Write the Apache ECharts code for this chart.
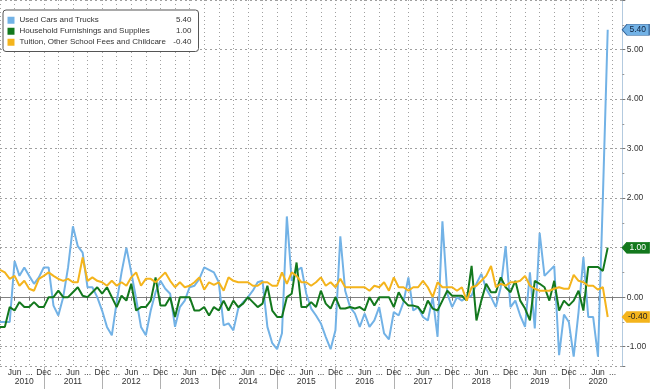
<!DOCTYPE html>
<html><head><meta charset="utf-8">
<script src="https://cdn.jsdelivr.net/npm/echarts@6/dist/echarts.min.js"></script>
<style>html,body{margin:0;padding:0;background:#fff}#c{width:650px;height:389px}</style>
</head><body><div id="c"></div>
<script>
// ---- data ----
const years = [2010,2011,2012,2013,2014,2015,2016,2017,2018,2019,2020];
const firstMonthOf2010 = 3;   // March 2010 is the first category
const lastMonthOf2020 = 11;   // axis runs to November 2020
const seriesNames = ['Used Cars and Trucks','Household Furnishings and Supplies','Tuition, Other School Fees and Childcare'];

// monthly % change, Mar 2010 .. Aug 2020
const usedCars = [
 -0.5,-0.5,-0.5,0.73,0.43,0.6,0.43,0.27,0.4,0.6,
 0.6,-0.17,-0.37,0.0,0.6,1.43,1.03,0.9,0.2,0.2,0.0,-0.27,
 -0.6,-0.77,-0.1,0.5,1.0,0.5,-0.03,-0.6,-0.77,-0.27,0.1,0.33,
 0.17,0.07,-0.6,-0.2,-0.07,0.2,0.23,0.37,0.6,0.55,0.5,0.3,
 -0.57,-0.53,-0.67,-0.23,-0.1,0.0,0.13,0.3,0.33,-0.6,-0.93,-1.05,
 -0.73,1.63,0.33,0.53,0.6,0.07,-0.23,-0.37,-0.53,-0.8,-1.05,-0.67,
 1.23,0.13,-0.2,-0.33,-0.6,-0.33,-0.6,-0.47,-0.2,-0.73,-0.85,-0.3,
 -0.37,-0.1,0.4,-0.27,-0.2,-0.4,-0.47,0.0,-0.8,1.53,0.07,-0.2,
 0.0,-0.07,0.0,0.03,0.27,0.47,0.17,0.0,-0.2,0.2,1.03,-0.2,
 -0.07,-0.37,-0.6,0.5,-0.63,1.3,0.43,0.53,0.63,-1.17,-0.35,-0.5,
 -1.2,-0.3,0.81,-0.4,-0.4,-1.2,2.0,5.4
];
const furnishings = [
 -0.6,-0.6,-0.2,-0.27,-0.1,-0.2,-0.2,-0.1,-0.2,-0.2,
 0.0,0.0,0.13,0.0,0.0,0.1,0.2,0.03,0.0,0.1,0.2,0.07,
 0.2,0.0,-0.2,0.03,-0.07,0.27,-0.27,-0.2,-0.2,-0.07,0.4,-0.17,
 -0.17,0.0,-0.4,0.0,0.0,0.0,-0.27,-0.27,-0.2,-0.37,-0.2,-0.27,
 -0.07,-0.27,-0.07,-0.2,-0.13,0.0,-0.1,-0.2,-0.13,0.23,-0.27,-0.4,
 -0.4,0.0,0.07,0.7,-0.2,-0.2,-0.1,-0.2,0.13,-0.13,-0.23,0.0,
 -0.23,-0.23,-0.2,-0.23,-0.2,-0.27,0.0,-0.17,0.0,0.0,0.0,-0.2,
 0.1,-0.07,-0.17,-0.17,-0.2,-0.33,-0.07,-0.23,-0.27,-0.07,0.13,0.03,
 0.03,0.03,-0.07,0.63,-0.47,-0.07,0.27,0.1,0.1,0.4,0.2,0.1,
 0.33,-0.07,-0.23,-0.47,0.33,0.27,0.2,-0.07,0.33,-0.27,-0.07,-0.17,
 -0.07,0.13,-0.27,0.61,0.61,0.61,0.53,1.0
];
const tuition = [
 0.55,0.5,0.37,0.43,0.23,0.33,0.17,0.13,0.37,0.43,
 0.5,0.43,0.37,0.33,0.37,0.3,0.3,0.8,0.33,0.4,0.33,0.3,
 0.23,0.33,0.23,0.3,0.23,0.4,0.5,0.23,0.37,0.37,0.3,0.4,
 0.5,0.33,0.2,0.3,0.2,0.23,0.3,0.4,0.15,0.3,0.25,0.3,
 0.13,0.4,0.33,0.3,0.3,0.3,0.23,0.23,0.3,0.3,0.23,0.23,
 0.5,0.27,0.5,0.43,0.3,0.3,0.23,0.3,0.4,0.23,0.3,0.2,
 0.37,0.2,0.2,0.2,0.2,0.2,0.13,0.23,0.2,0.3,0.13,0.4,
 0.2,0.2,0.13,0.2,0.2,0.33,0.2,0.0,0.3,0.2,0.2,0.2,
 0.13,0.2,-0.07,0.2,0.23,0.33,0.43,0.63,0.2,0.27,0.23,0.3,
 0.3,0.33,0.43,0.23,0.17,0.13,0.13,0.13,0.17,0.2,0.17,0.17,
 0.45,0.33,0.3,0.23,0.23,0.15,0.2,-0.4
];
const quarterTickLabels = {'03':'...','06':'Jun','09':'...','12':'Dec'};
const yearLabelAt = ['2010-08','2011-06','2012-06','2013-06','2014-06','2015-06','2016-06','2017-06','2018-06','2019-06','2020-06'];
const yTickLabels = ['-1.00','0.00','1.00','2.00','3.00','4.00','5.00'];

// ---- build ----
const categories = [];
years.forEach(y => {
  for (let m = 1; m <= 12; m++) {
    if (y === years[0] && m < firstMonthOf2010) continue;
    if (y === years[years.length-1] && m > lastMonthOf2020) continue;
    categories.push(y + '-' + String(m).padStart(2, '0'));
  }
});
const padTo = arr => arr.concat(new Array(categories.length - arr.length).fill(null));
const seriesData = [usedCars, furnishings, tuition];
const colors = ['#72b2e6', '#13781d', '#f4b41c'];
const tagText = ['#10233f', '#ffffff', '#222222'];
const lastCat = categories[usedCars.length - 1];
const lastVals = seriesData.map(a => a[a.length - 1]);
const lastLabel = {};
seriesNames.forEach((n, i) => lastLabel[n] = lastVals[i].toFixed(2));

const FONT = "'Liberation Sans', Arial, sans-serif";
const monthOf = v => v.slice(5);

const chart = echarts.init(document.getElementById('c'), null, {renderer: 'canvas'});
chart.setOption({
  animation: false,
  backgroundColor: '#ffffff',
  grid: {left: -4, right: 27.7, top: -3, bottom: 22.5, containLabel: false},
  legend: {
    orient: 'vertical', left: 3, top: 10,
    padding: [5, 7, 4, 4.5], itemGap: 0.5,
    itemWidth: 7, itemHeight: 7, itemTextGap: 3, icon: 'rect',
    backgroundColor: '#ffffff', borderColor: '#555555', borderWidth: 1, borderRadius: 3,
    data: seriesNames,
    textStyle: {
      fontFamily: FONT, fontSize: 8, color: '#333', lineHeight: 10.5,
      rich: {
        n: {fontFamily: FONT, fontSize: 8, color: '#333', width: 150, lineHeight: 10.5},
        v: {fontFamily: FONT, fontSize: 8, color: '#333', width: 22, align: 'right', lineHeight: 10.5}
      }
    },
    formatter: name => '{n|' + name + '}{v|' + lastLabel[name] + '}'
  },
  xAxis: [{
    type: 'category', data: categories, boundaryGap: false, position: 'bottom',
    axisLine: {show: true, lineStyle: {color: '#808080', width: 1}},
    axisTick: {show: true, length: 3, interval: (i, v) => monthOf(v) in quarterTickLabels, lineStyle: {color: '#777'}},
    axisLabel: {
      show: true, interval: (i, v) => i > 0 && (monthOf(v) in quarterTickLabels),
      formatter: v => quarterTickLabels[monthOf(v)] || '',
      fontFamily: FONT, fontSize: 8.5, color: '#333', margin: 2
    },
    splitLine: {show: true, interval: (i, v) => monthOf(v) in quarterTickLabels,
      lineStyle: {color: '#a0a0a0', width: 1, type: [1, 3]}}
  }, {
    type: 'category', data: categories, boundaryGap: false, position: 'bottom',
    axisLine: {show: false},
    axisTick: {show: true, length: 23, interval: (i, v) => monthOf(v) === '12', lineStyle: {color: '#b0b0b0'}},
    axisLabel: {
      show: true, interval: (i, v) => yearLabelAt.indexOf(v) >= 0,
      formatter: v => v.slice(0, 4),
      fontFamily: FONT, fontSize: 8.5, color: '#333', margin: 11
    },
    splitLine: {show: false}
  }],
  yAxis: {
    type: 'value', position: 'right', min: -1.4, max: 6, splitNumber: 7,
    axisLine: {show: true, lineStyle: {color: '#b3cadf', width: 1}},
    axisTick: {show: true, length: 3, lineStyle: {color: '#777'}},
    minorTick: {show: true, splitNumber: 2, length: 2, lineStyle: {color: '#999'}},
    axisLabel: {
      fontFamily: FONT, fontSize: 8.5, color: '#333', margin: 4.5,
      formatter: v => { const s = v.toFixed(2); return yTickLabels.indexOf(s) >= 0 ? s : ''; }
    },
    splitLine: {show: true, lineStyle: {color: '#a0a0a0', width: 1, type: [2, 3]}}
  },
  series: seriesNames.map((name, i) => ({
    name, type: 'line', data: padTo(seriesData[i]),
    showSymbol: false, symbol: 'none', connectNulls: false,
    itemStyle: {color: colors[i]},
    lineStyle: {color: colors[i], width: 2},
    z: 3 + i,
    markPoint: {
      silent: true, animation: false,
      symbol: 'path://M0,6 L6,0 L34,0 L34,12 L6,12 Z',
      symbolSize: [27, 11], symbolKeepAspect: false, symbolOffset: [28, 0],
      itemStyle: {color: colors[i], borderColor: i === 0 ? '#2f5f96' : colors[i], borderWidth: 0.8},
      label: {show: true, position: 'inside', offset: [2, 0], formatter: p => Number(p.value).toFixed(2),
        color: tagText[i], fontFamily: FONT, fontSize: 8.5},
      data: [{coord: [lastCat, lastVals[i]], value: lastVals[i]}]
    }
  }))
});
</script></body></html>
